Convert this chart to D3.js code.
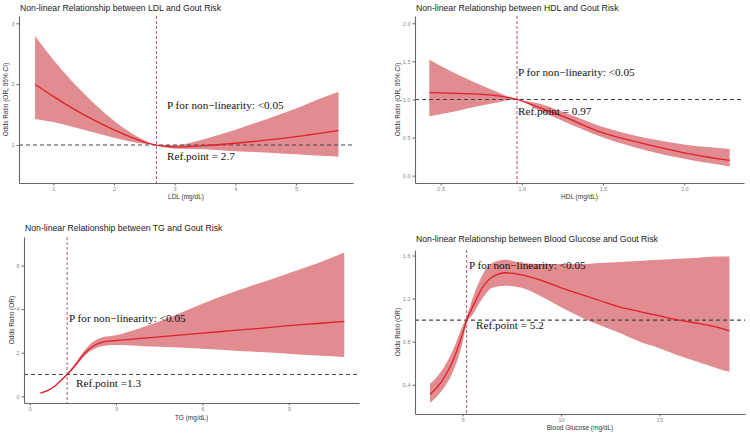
<!DOCTYPE html>
<html>
<head>
<meta charset="utf-8">
<script src="https://cdn.jsdelivr.net/npm/d3@7"></script>
<style>
	body { margin: 0; background: #fff; }
	svg { display: block; }
</style>
</head>
<body>
<svg id="chart" width="750" height="436"></svg>
<script>
// LDL
const ldlX = [0.7, 1.0, 1.5, 2.0, 2.5, 2.7, 3.0, 3.5, 4.0, 4.5, 5.0, 5.5, 5.7];
const ldlMean = [2.0, 1.8, 1.5, 1.25, 1.05, 1.0, 0.97, 0.99, 1.03, 1.08, 1.14, 1.21, 1.24];
const ldlUpper = [2.79, 2.4, 1.85, 1.4, 1.08, 1.0, 1.0, 1.1, 1.25, 1.42, 1.6, 1.8, 1.87];
const ldlLower = [1.43, 1.38, 1.25, 1.12, 1.02, 1.0, 0.94, 0.93, 0.9, 0.88, 0.85, 0.82, 0.81];

// HDL
const hdlX = [0.43, 0.6, 0.8, 0.97, 1.1, 1.25, 1.5, 1.75, 2.0, 2.28];
const hdlMean = [1.09, 1.08, 1.06, 1.0, 0.9, 0.78, 0.56, 0.42, 0.3, 0.2];
const hdlUpper = [1.52, 1.33, 1.14, 1.0, 0.95, 0.84, 0.64, 0.5, 0.41, 0.35];
const hdlLower = [0.78, 0.85, 0.94, 1.0, 0.86, 0.72, 0.5, 0.34, 0.22, 0.12];

// TG
const tgX = [0.37, 0.6, 0.9, 1.1, 1.3, 1.6, 1.9, 2.2, 2.5, 3, 4, 5, 6, 7, 8, 9, 10, 10.93];
const tgMean = [0.15, 0.25, 0.5, 0.75, 1.0, 1.45, 1.95, 2.3, 2.48, 2.56, 2.67, 2.78, 2.9, 3.01, 3.12, 3.24, 3.34, 3.44];
const tgUpper = [0.17, 0.27, 0.53, 0.78, 1.03, 1.55, 2.1, 2.5, 2.7, 2.8, 3.2, 3.7, 4.25, 4.75, 5.2, 5.65, 6.1, 6.6];
const tgLower = [0.13, 0.23, 0.47, 0.72, 0.97, 1.38, 1.85, 2.15, 2.3, 2.35, 2.3, 2.25, 2.18, 2.1, 2.03, 1.95, 1.87, 1.8];

// Blood glucose
const bgX = [3.34, 4, 4.5, 5, 5.2, 5.5, 6, 6.5, 7.2, 8, 9, 10, 11, 12, 13, 14, 15, 16, 17, 18, 18.56];
const bgMean = [0.31, 0.45, 0.62, 0.88, 1.0, 1.12, 1.3, 1.4, 1.44, 1.42, 1.37, 1.3, 1.24, 1.18, 1.12, 1.08, 1.04, 1.0, 0.97, 0.93, 0.9];
const bgUpper = [0.41, 0.55, 0.72, 0.95, 1.03, 1.2, 1.42, 1.53, 1.56, 1.53, 1.52, 1.52, 1.52, 1.53, 1.54, 1.55, 1.56, 1.57, 1.58, 1.59, 1.59];
const bgLower = [0.23, 0.36, 0.52, 0.8, 0.97, 1.05, 1.2, 1.3, 1.32, 1.3, 1.22, 1.12, 1.03, 0.95, 0.88, 0.8, 0.74, 0.67, 0.61, 0.55, 0.52];

const panels = [
	{
		title: "Non-linear Relationship between LDL and Gout Risk",
		xLabel: "LDL (mg/dL)", yLabel: "Odds Ratio (OR, 95% CI)",
		x: ldlX, mean: ldlMean, upper: ldlUpper, lower: ldlLower,
		refX: 2.7, pText: "P for non\u2212linearity: <0.05", refText: "Ref.point = 2.7",
		xTicks: [1, 2, 3, 4, 5], yTicks: [1, 2, 3], fmt: d3.format("d"), yFmt: d3.format("d"),
		xDom: [0.435, 5.94], yDom: [0.377, 3.12],
		box: { left: 19, top: 16, right: 353, bottom: 183 },
		titleY: 11, xLabY: 199, yLabX: 8,
		pPos: [167, 109], refPos: [167, 160]
	},
	{
		title: "Non-linear Relationship between HDL and Gout Risk",
		xLabel: "HDL (mg/dL)", yLabel: "Odds Ratio (OR, 95% CI)",
		x: hdlX, mean: hdlMean, upper: hdlUpper, lower: hdlLower,
		refX: 0.97, pText: "P for non\u2212linearity: <0.05", refText: "Ref.point = 0.97",
		xTicks: [0.5, 1, 1.5, 2], yTicks: [0, 0.5, 1, 1.5, 2], fmt: d3.format(".1f"), yFmt: d3.format(".1f"),
		xDom: [0.342, 2.368], yDom: [-0.097, 2.096],
		box: { left: 415, top: 16, right: 744, bottom: 183 },
		titleY: 11, xLabY: 199, yLabX: 400,
		pPos: [518, 76], refPos: [518, 115]
	},
	{
		title: "Non-linear Relationship between TG and Gout Risk",
		xLabel: "TG (mg/dL)", yLabel: "Odds Ratio (OR)",
		x: tgX, mean: tgMean, upper: tgUpper, lower: tgLower,
		refX: 1.3, pText: "P for non\u2212linearity: <0.05", refText: "Ref.point =1.3",
		xTicks: [0, 3, 6, 9], yTicks: [0, 2, 4, 6], fmt: d3.format("d"), yFmt: d3.format("d"),
		xDom: [-0.198, 11.44], yDom: [-0.307, 7.31],
		box: { left: 24, top: 237, right: 359, bottom: 403 },
		titleY: 231, xLabY: 420, yLabX: 14,
		pPos: [69, 322], refPos: [76, 387]
	},
	{
		title: "Non-linear Relationship between Blood Glucose and Gout Risk",
		xLabel: "Blood Glucose (mg/dL)", yLabel: "Odds Ratio (OR)",
		x: bgX, mean: bgMean, upper: bgUpper, lower: bgLower,
		refX: 5.2, pText: "P for non\u2212linearity: <0.05", refText: "Ref.point = 5.2",
		xTicks: [5, 10, 15], yTicks: [0.4, 0.8, 1.2, 1.6], fmt: d3.format("d"), yFmt: d3.format(".1f"),
		xDom: [2.575, 19.35], yDom: [0.129, 1.651],
		box: { left: 415, top: 250, right: 745, bottom: 414 },
		titleY: 242, xLabY: 430, yLabX: 400,
		pPos: [469, 269], refPos: [476, 329]
	}
];

const svg = d3.select("#chart");

panels.forEach(p => {
	const b = p.box;
	const x = d3.scaleLinear().domain(p.xDom).range([b.left, b.right]);
	const y = d3.scaleLinear().domain(p.yDom).range([b.bottom, b.top]);
	const g = svg.append("g");

	const rows = p.x.map((v, i) => ({ x: v, m: p.mean[i], u: p.upper[i], l: p.lower[i] }));

	// confidence band
	g.append("path")
		.datum(rows)
		.attr("d", d3.area().curve(d3.curveMonotoneX)
			.x(d => x(d.x)).y0(d => y(d.l)).y1(d => y(d.u)))
		.style("fill", "#e08c90");

	// reference lines
	g.append("line")
		.attr("x1", b.left).attr("x2", b.right)
		.attr("y1", y(1)).attr("y2", y(1))
		.style("stroke", "#444").style("stroke-width", 1.1)
		.style("stroke-dasharray", "4,3");

	g.append("line")
		.attr("x1", x(p.refX)).attr("x2", x(p.refX))
		.attr("y1", b.top).attr("y2", b.bottom)
		.style("stroke", "#b8506a").style("stroke-width", 1)
		.style("stroke-dasharray", "3,2");

	// fitted curve
	g.append("path")
		.datum(rows)
		.attr("d", d3.line().curve(d3.curveMonotoneX).x(d => x(d.x)).y(d => y(d.m)))
		.style("fill", "none")
		.style("stroke", "#e0202a")
		.style("stroke-width", 1.3);

	// axes
	const xAxis = g.append("g")
		.attr("transform", `translate(0,${b.bottom})`)
		.call(d3.axisBottom(x).tickValues(p.xTicks).tickFormat(p.fmt).tickSize(2.5).tickSizeOuter(0).tickPadding(2));
	const yAxis = g.append("g")
		.attr("transform", `translate(${b.left},0)`)
		.call(d3.axisLeft(y).tickValues(p.yTicks).tickFormat(p.yFmt).tickSize(2.5).tickSizeOuter(0).tickPadding(2));

	[xAxis, yAxis].forEach(a => {
		a.select(".domain").style("stroke", "#666").style("stroke-width", 1.1);
		a.selectAll(".tick line").style("stroke", "#666");
		a.selectAll("text")
			.style("font-family", "Liberation Sans, Arial, sans-serif")
			.style("font-size", "5.5px")
			.style("fill", "#888");
	});

	// titles and labels
	g.append("text")
		.attr("x", b.left + 1)
		.attr("y", p.titleY)
		.style("font-family", "Liberation Sans, Arial, sans-serif")
		.style("font-size", "8.7px")
		.style("fill", "#222")
		.text(p.title);

	g.append("text")
		.attr("x", (b.left + b.right) / 2)
		.attr("y", p.xLabY)
		.attr("text-anchor", "middle")
		.style("font-family", "Liberation Sans, Arial, sans-serif")
		.style("font-size", "6.5px")
		.style("fill", "#333")
		.text(p.xLabel);

	g.append("text")
		.attr("transform", `translate(${p.yLabX},${(b.top + b.bottom) / 2}) rotate(-90)`)
		.attr("text-anchor", "middle")
		.style("font-family", "Liberation Sans, Arial, sans-serif")
		.style("font-size", "6.5px")
		.style("fill", "#333")
		.text(p.yLabel);

	// annotations
	[[p.pText, p.pPos], [p.refText, p.refPos]].forEach(([t, pos]) => {
		g.append("text")
			.attr("x", pos[0])
			.attr("y", pos[1])
			.style("font-family", "Liberation Serif, Times New Roman, serif")
			.style("font-size", "11.2px")
			.style("fill", "#111")
			.text(t);
	});
});
</script>
</body>
</html>
